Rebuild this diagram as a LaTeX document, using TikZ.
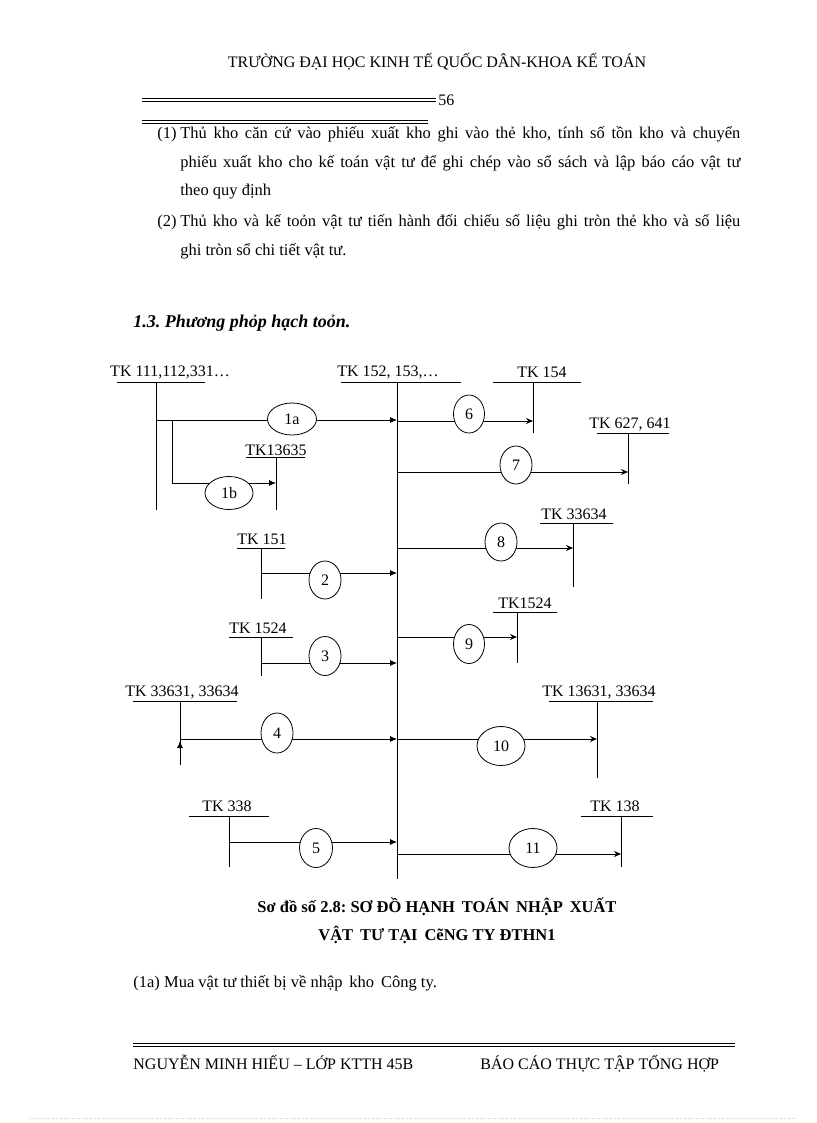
\documentclass[tikz,border=0pt]{standalone}
\usepackage{fontspec}
\setmainfont{Liberation Serif}
\usetikzlibrary{shapes.geometric,arrows.meta}

\tikzset{
  tk/.style={inner sep=1pt, font=\fontsize{16}{18}\selectfont},
  oval/.style={draw, ellipse, fill=white, inner sep=0pt,
    font=\fontsize{16}{18}\selectfont},
  vao/.style={-{Latex[length=7pt,width=6pt]}},
  ra/.style={-{Stealth[length=7pt,width=6pt]}},
  doan/.style={anchor=base west, text width=560pt, align=justify,
    inner sep=0pt, font=\fontsize{16.5}{28.5}\selectfont},
}

\begin{document}
\frenchspacing
\begin{tikzpicture}[x=1pt,y=-1pt,line width=0.8pt]
  \useasboundingbox (0,0) rectangle (816,1123);
  \fill[white] (0,0) rectangle (816,1123);

  % dau trang
  \node[font=\fontsize{16}{18}\selectfont] (head) at (437,62)
    {TRƯỜNG ĐẠI HỌC KINH TẾ QUỐC DÂN-KHOA KẾ TOÁN};
  \draw (142,98) -- (436,98);
  \draw (142,101) -- (436,101);
  \node[anchor=west, inner sep=1pt, font=\fontsize{16}{18}\selectfont] (page) at (437,100) {56};
  \draw (142,120) -- (428,120);
  \draw (142,123) -- (428,123);

  % cac doan van
  \node[anchor=base west, inner sep=0pt, font=\fontsize{16.5}{18}\selectfont] (p1) at (157,139) {(1)};
  \node[doan] (d1) at (180,139) {Thủ kho căn cứ vào phiếu xuất kho ghi vào thẻ kho, tính số tồn kho và chuyển\linebreak
    phiếu xuất kho cho kế toán vật tư để ghi chép vào sổ sách và lập báo cáo vật tư\linebreak
    theo quy định};
  \node[anchor=base west, inner sep=0pt, font=\fontsize{16.5}{18}\selectfont] (p2) at (157,227) {(2)};
  \node[doan] (d2) at (180,227) {Thủ kho và kế toỏn vật tư tiến hành đối chiếu số liệu ghi tròn thẻ kho và số liệu\linebreak
    ghi tròn sổ chi tiết vật tư.};

  \node[anchor=base west, inner sep=0pt, font=\fontsize{18}{20}\selectfont\bfseries\itshape] (muc) at (133,327)
    {1.3. Phương phỏp hạch toỏn.};

  % tai khoan chu T
  \node[tk] (n111) at (170,372) {TK 111,112,331…};
  \draw (117,382) -- (205,382);
  \coordinate (k111) at (156,382);
  \draw (k111) -- (156,510);

  \node[tk] (n152) at (388,372) {TK 152, 153,…};
  \draw (341,382) -- (461,382);
  \coordinate (k152) at (397,382);
  \draw (k152) -- (397,879);

  \node[tk] (n154) at (542,372) {TK 154};
  \draw (493,382) -- (581,382);
  \coordinate (k154) at (533,382);
  \draw (k154) -- (533,433);

  \node[tk] (n13635) at (276,450) {TK13635};
  \draw (246,457) -- (305,457);
  \coordinate (k13635) at (276,457);
  \draw (k13635) -- (276,510);

  \node[tk] (n627) at (630,424) {TK 627, 641};
  \draw (597,433) -- (669,433);
  \coordinate (k627) at (628,433);
  \draw (k627) -- (628,484);

  \node[tk] (n33634) at (574,514) {TK 33634};
  \draw (540,523) -- (613,523);
  \coordinate (k33634) at (573,523);
  \draw (k33634) -- (573,587);

  \node[tk] (n151) at (262,539) {TK 151};
  \draw (237,548) -- (285,548);
  \coordinate (k151) at (261,548);
  \draw (k151) -- (261,599);

  \node[tk] (n1524b) at (525,603) {TK1524};
  \draw (493,612) -- (557,612);
  \coordinate (k1524b) at (517,612);
  \draw (k1524b) -- (517,663);

  \node[tk] (n1524a) at (258,628) {TK 1524};
  \draw (229,637) -- (293,637);
  \coordinate (k1524a) at (261,637);
  \draw (k1524a) -- (261,676);

  \node[tk] (n33631) at (182,692) {TK 33631, 33634};
  \draw (133,701) -- (237,701);
  \coordinate (k33631) at (180,701);
  \draw (k33631) -- (180,765);

  \node[tk] (n13631) at (599,692) {TK 13631, 33634};
  \draw (549,701) -- (653,701);
  \coordinate (k13631) at (597,701);
  \draw (k13631) -- (597,778);

  \node[tk] (n338) at (227,806) {TK 338};
  \draw (189,816) -- (269,816);
  \coordinate (k338) at (229,816);
  \draw (k338) -- (229,867);

  \node[tk] (n138) at (615,806) {TK 138};
  \draw (581,816) -- (653,816);
  \coordinate (k138) at (621,816);
  \draw (k138) -- (621,867);

  % cac dong nhap
  \coordinate (r1a) at (0,420);
  \coordinate (r1b) at (0,483);
  \coordinate (r2) at (0,573);
  \coordinate (r3) at (0,663);
  \coordinate (r4) at (0,739);
  \coordinate (r5) at (0,842);
  \draw[vao] (k111 |- r1a) -- (k152 |- r1a);
  \node[oval, minimum width=49pt, minimum height=32pt] (o1a) at (292,419) {1a};
  \draw[vao] (172,420) -- (172,483) -- (k13635 |- r1b);
  \node[oval, minimum width=48pt, minimum height=33pt] (o1b) at (229,493) {1b};
  \draw[vao] (k151 |- r2) -- (k152 |- r2);
  \node[oval, minimum width=32pt, minimum height=38pt] (o2) at (325,580) {2};
  \draw[vao] (k1524a |- r3) -- (k152 |- r3);
  \node[oval, minimum width=32pt, minimum height=39pt] (o3) at (325,656) {3};
  \draw[vao] (180,765) -- (180,741);
  \draw[vao] (k33631 |- r4) -- (k152 |- r4);
  \node[oval, minimum width=32pt, minimum height=40pt] (o4) at (277,733) {4};
  \draw[vao] (k338 |- r5) -- (k152 |- r5);
  \node[oval, minimum width=33pt, minimum height=39pt] (o5) at (316,848) {5};

  % cac dong xuat
  \coordinate (r6) at (0,421);
  \coordinate (r7) at (0,472);
  \coordinate (r8) at (0,548);
  \coordinate (r9) at (0,637);
  \coordinate (r10) at (0,739);
  \coordinate (r11) at (0,854);
  \draw[ra] (k152 |- r6) -- (k154 |- r6);
  \node[oval, minimum width=31pt, minimum height=38pt] (o6) at (469,414) {6};
  \draw[ra] (k152 |- r7) -- (k627 |- r7);
  \node[oval, minimum width=32pt, minimum height=38pt] (o7) at (516,465) {7};
  \draw[ra] (k152 |- r8) -- (k33634 |- r8);
  \node[oval, minimum width=32pt, minimum height=38pt] (o8) at (501,542) {8};
  \draw[ra] (k152 |- r9) -- (k1524b |- r9);
  \node[oval, minimum width=31pt, minimum height=39pt] (o9) at (469,644) {9};
  \draw[ra] (k152 |- r10) -- (k13631 |- r10);
  \node[oval, minimum width=48pt, minimum height=39pt] (o10) at (501,746) {10};
  \draw[ra] (k152 |- r11) -- (k138 |- r11);
  \node[oval, minimum width=48pt, minimum height=39pt] (o11) at (533,848) {11};

  % ten so do
  \node[font=\fontsize{16.5}{18}\selectfont\bfseries] (cap1) at (437,907)
    {Sơ đồ số 2.8: SƠ ĐỒ HẠNH\, TOÁN\, NHẬP\, XUẤT};
  \node[font=\fontsize{16.5}{18}\selectfont\bfseries] (cap2) at (437,935)
    {VẬT\, TƯ TẠI\, CẽNG TY ĐTHN1};

  \node[anchor=base west, inner sep=0pt, font=\fontsize{16.5}{18}\selectfont] (g1a) at (133,987)
    {(1a) Mua vật tư thiết bị về nhập\, kho\, Công ty.};

  % chan trang
  \draw (133,1043) -- (735,1043);
  \draw (133,1046) -- (735,1046);
  \node[anchor=base west, inner sep=0pt, font=\fontsize{16}{18}\selectfont] (ten) at (133,1069)
    {NGUYỄN MINH HIẾU – LỚP KTTH 45B};
  \node[anchor=base west, inner sep=0pt, font=\fontsize{16}{18}\selectfont] (bc) at (480,1069)
    {BÁO CÁO THỰC TẬP TỔNG HỢP};
  \draw[gray!40, dotted, line width=0.6pt] (30,1118) -- (795,1118);
\end{tikzpicture}
\end{document}
